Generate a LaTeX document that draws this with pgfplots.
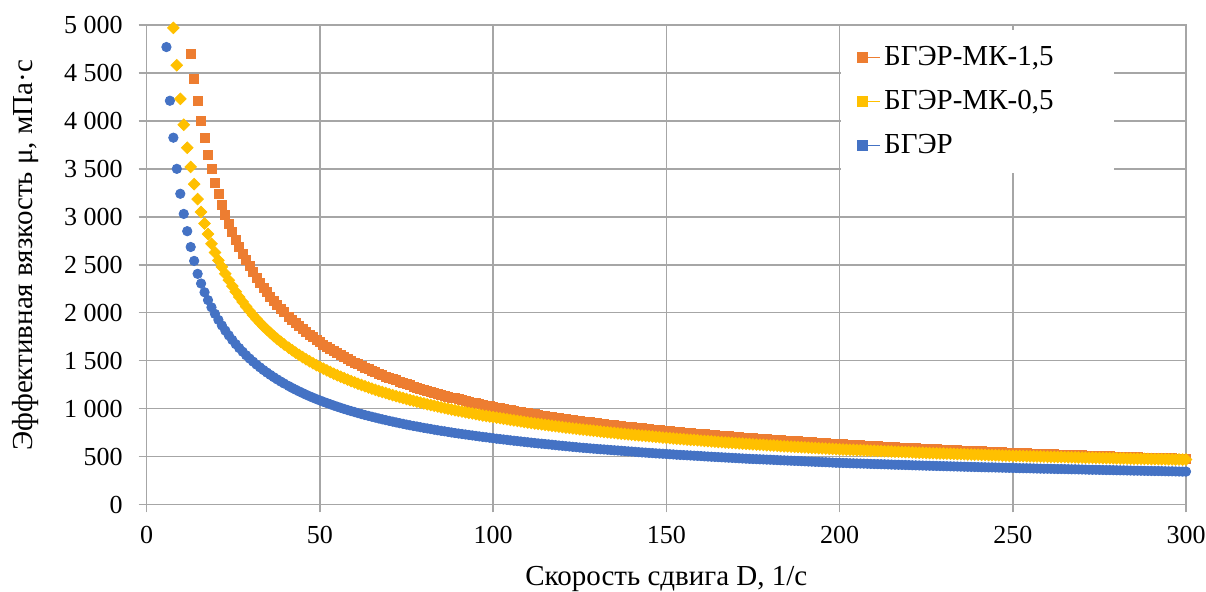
\documentclass[border=0pt]{standalone}
\usepackage{fontspec}
\setmainfont{Liberation Serif}
\usepackage{pgfplots}
\usepackage{pgfplotstable}
\pgfplotsset{compat=1.18}

\definecolor{cOrange}{HTML}{ED7D31}
\definecolor{cGold}{HTML}{FFC000}
\definecolor{cBlue}{HTML}{4472C4}
\definecolor{cGrid}{HTML}{A6A6A6}

% БГЭР-МК-1,5
\pgfplotstableread[row sep=\\]{
x y\\
12.7 4700\\ 13.7 4440\\ 14.7 4207\\ 15.7 4005\\ 16.7 3822\\ 17.7 3650\\ 18.7 3495\\ 19.7 3358\\
20.7 3238\\ 21.7 3126\\ 22.7 3020\\ 23.7 2925\\ 24.7 2840\\ 25.7 2762\\ 26.7 2685\\ 27.7 2614\\
28.7 2546\\ 29.7 2483\\ 30.7 2423\\ 31.7 2367\\ 32.7 2313\\ 33.7 2262\\ 34.7 2214\\ 35.7 2168\\
36.7 2125\\ 37.7 2083\\ 38.7 2043\\ 39.7 2005\\
41 1959\\ 42 1924\\ 43 1891\\ 44 1859\\ 45 1829\\ 46 1799\\ 47 1771\\ 48 1744\\ 49 1718\\ 50 1692\\
51 1668\\ 52 1644\\ 53 1621\\ 54 1599\\ 55 1578\\ 56 1557\\ 57 1537\\ 58 1517\\ 59 1498\\ 60 1480\\
61 1462\\ 62 1445\\ 63 1428\\ 64 1411\\ 65 1395\\ 66 1379\\ 67 1364\\ 68 1350\\ 69 1335\\ 70 1321\\
71 1307\\ 72 1294\\ 73 1281\\ 74 1268\\ 75 1255\\ 76 1243\\ 77 1231\\ 78 1220\\ 79 1208\\ 80 1197\\
81 1186\\ 82 1176\\ 83 1165\\ 84 1155\\ 85 1145\\ 86 1135\\ 87 1125\\ 88 1116\\ 89 1107\\ 90 1098\\
91 1089\\ 92 1080\\ 93 1071\\ 94 1063\\ 95 1055\\ 96 1047\\ 97 1039\\ 98 1031\\ 99 1023\\ 100 1016\\
101 1009\\ 102 1002\\ 103 995\\ 104 989\\ 105 982\\ 106 976\\ 107 969\\ 108 963\\ 109 957\\ 110 951\\
111 945\\ 112 940\\ 113 934\\ 114 929\\ 115 923\\ 116 918\\ 117 912\\ 118 907\\ 119 901\\ 120 896\\
121 891\\ 122 886\\ 123 881\\ 124 876\\ 125 871\\ 126 866\\ 127 861\\ 128 857\\ 129 852\\ 130 848\\
131 843\\ 132 839\\ 133 834\\ 134 830\\ 135 826\\ 136 822\\ 137 818\\ 138 814\\ 139 809\\ 140 805\\
141 801\\ 142 798\\ 143 794\\ 144 790\\ 145 786\\ 146 782\\ 147 778\\ 148 775\\ 149 771\\ 150 768\\
151 764\\ 152 761\\ 153 757\\ 154 754\\ 155 751\\ 156 748\\ 157 744\\ 158 741\\ 159 738\\ 160 735\\
161 732\\ 162 729\\ 163 725\\ 164 722\\ 165 719\\ 166 716\\ 167 713\\ 168 711\\ 169 708\\ 170 705\\
171 702\\ 172 699\\ 173 696\\ 174 694\\ 175 691\\ 176 689\\ 177 686\\ 178 684\\ 179 681\\ 180 678\\
181 675\\ 182 673\\ 183 670\\ 184 668\\ 185 665\\ 186 663\\ 187 660\\ 188 658\\ 189 655\\ 190 653\\
191 650\\ 192 648\\ 193 646\\ 194 644\\ 195 641\\ 196 639\\ 197 637\\ 198 635\\ 199 632\\ 200 630\\
201 628\\ 202 626\\ 203 624\\ 204 622\\ 205 619\\ 206 617\\ 207 615\\ 208 613\\ 209 611\\ 210 609\\
211 607\\ 212 605\\ 213 603\\ 214 601\\ 215 599\\ 216 597\\ 217 595\\ 218 593\\ 219 591\\ 220 590\\
221 588\\ 222 586\\ 223 584\\ 224 583\\ 225 581\\ 226 579\\ 227 577\\ 228 576\\ 229 574\\ 230 573\\
231 571\\ 232 569\\ 233 567\\ 234 566\\ 235 564\\ 236 563\\ 237 561\\ 238 560\\ 239 558\\ 240 556\\
241 554\\ 242 553\\ 243 551\\ 244 550\\ 245 548\\ 246 547\\ 247 545\\ 248 543\\ 249 541\\ 250 540\\
251 538\\ 252 537\\ 253 535\\ 254 534\\ 255 532\\ 256 531\\ 257 530\\ 258 529\\ 259 527\\ 260 526\\
261 524\\ 262 523\\ 263 521\\ 264 520\\ 265 519\\ 266 518\\ 267 516\\ 268 515\\ 269 513\\ 270 512\\
271 511\\ 272 510\\ 273 508\\ 274 507\\ 275 506\\ 276 505\\ 277 503\\ 278 502\\ 279 501\\ 280 500\\
281 499\\ 282 498\\ 283 496\\ 284 495\\ 285 494\\ 286 493\\ 287 491\\ 288 490\\ 289 489\\ 290 488\\
291 487\\ 292 486\\ 293 484\\ 294 483\\ 295 482\\ 296 481\\ 297 479\\ 298 478\\ 299 477\\ 300 476\\
}\mkhigh

% БГЭР-МК-0,5
\pgfplotstableread[row sep=\\]{
x y\\
7.7 4970\\ 8.7 4580\\ 9.7 4230\\ 10.7 3960\\ 11.7 3720\\ 12.7 3520\\ 13.7 3340\\ 14.7 3185\\
15.7 3050\\ 16.7 2930\\ 17.7 2820\\ 18.7 2718\\ 19.7 2628\\ 20.7 2545\\ 21.7 2478\\ 22.7 2406\\
23.7 2339\\ 24.7 2277\\ 25.7 2218\\ 26.7 2163\\ 27.7 2112\\ 28.7 2063\\ 29.7 2018\\ 30.7 1974\\
31.7 1933\\ 32.7 1895\\ 33.7 1857\\ 34.7 1822\\ 35.7 1789\\ 36.7 1757\\ 37.7 1726\\ 38.7 1697\\
39.7 1668\\
41 1634\\ 42 1608\\ 43 1584\\ 44 1560\\ 45 1537\\ 46 1515\\ 47 1494\\ 48 1473\\ 49 1453\\ 50 1434\\
51 1416\\ 52 1398\\ 53 1381\\ 54 1364\\ 55 1348\\ 56 1332\\ 57 1317\\ 58 1302\\ 59 1287\\ 60 1273\\
61 1259\\ 62 1246\\ 63 1233\\ 64 1220\\ 65 1208\\ 66 1196\\ 67 1184\\ 68 1173\\ 69 1162\\ 70 1151\\
71 1140\\ 72 1130\\ 73 1120\\ 74 1110\\ 75 1100\\ 76 1090\\ 77 1081\\ 78 1072\\ 79 1063\\ 80 1054\\
81 1045\\ 82 1037\\ 83 1029\\ 84 1021\\ 85 1013\\ 86 1006\\ 87 998\\ 88 991\\ 89 983\\ 90 976\\
91 969\\ 92 962\\ 93 955\\ 94 949\\ 95 942\\ 96 936\\ 97 929\\ 98 923\\ 99 917\\ 100 911\\
101 905\\ 102 900\\ 103 894\\ 104 888\\ 105 882\\ 106 877\\ 107 871\\ 108 866\\ 109 860\\ 110 855\\
111 850\\ 112 845\\ 113 840\\ 114 836\\ 115 831\\ 116 826\\ 117 821\\ 118 817\\ 119 812\\ 120 807\\
121 802\\ 122 798\\ 123 793\\ 124 789\\ 125 785\\ 126 781\\ 127 777\\ 128 773\\ 129 769\\ 130 765\\
131 761\\ 132 757\\ 133 753\\ 134 750\\ 135 746\\ 136 742\\ 137 738\\ 138 735\\ 139 731\\ 140 728\\
141 724\\ 142 721\\ 143 718\\ 144 715\\ 145 711\\ 146 708\\ 147 705\\ 148 702\\ 149 698\\ 150 695\\
151 692\\ 152 689\\ 153 686\\ 154 683\\ 155 680\\ 156 677\\ 157 674\\ 158 672\\ 159 669\\ 160 666\\
161 663\\ 162 661\\ 163 658\\ 164 655\\ 165 652\\ 166 650\\ 167 647\\ 168 645\\ 169 642\\ 170 640\\
171 637\\ 172 635\\ 173 632\\ 174 630\\ 175 627\\ 176 625\\ 177 623\\ 178 621\\ 179 618\\ 180 616\\
181 614\\ 182 612\\ 183 609\\ 184 607\\ 185 605\\ 186 603\\ 187 601\\ 188 599\\ 189 597\\ 190 595\\
191 593\\ 192 591\\ 193 589\\ 194 587\\ 195 585\\ 196 583\\ 197 581\\ 198 579\\ 199 577\\ 200 575\\
201 573\\ 202 572\\ 203 570\\ 204 569\\ 205 567\\ 206 566\\ 207 564\\ 208 563\\ 209 561\\ 210 560\\
211 558\\ 212 557\\ 213 555\\ 214 554\\ 215 552\\ 216 551\\ 217 549\\ 218 548\\ 219 546\\ 220 545\\
221 543\\ 222 541\\ 223 540\\ 224 539\\ 225 537\\ 226 536\\ 227 534\\ 228 533\\ 229 532\\ 230 531\\
231 530\\ 232 529\\ 233 527\\ 234 526\\ 235 525\\ 236 524\\ 237 522\\ 238 521\\ 239 520\\ 240 519\\
241 518\\ 242 517\\ 243 515\\ 244 514\\ 245 513\\ 246 512\\ 247 510\\ 248 509\\ 249 508\\ 250 507\\
251 506\\ 252 505\\ 253 504\\ 254 503\\ 255 502\\ 256 502\\ 257 501\\ 258 500\\ 259 499\\ 260 498\\
261 497\\ 262 496\\ 263 495\\ 264 495\\ 265 494\\ 266 493\\ 267 492\\ 268 491\\ 269 490\\ 270 489\\
271 488\\ 272 488\\ 273 487\\ 274 486\\ 275 485\\ 276 484\\ 277 483\\ 278 483\\ 279 482\\ 280 481\\
281 480\\ 282 480\\ 283 479\\ 284 478\\ 285 477\\ 286 477\\ 287 476\\ 288 476\\ 289 475\\ 290 474\\
291 473\\ 292 473\\ 293 472\\ 294 472\\ 295 471\\ 296 470\\ 297 469\\ 298 469\\ 299 468\\ 300 468\\
}\mklow

% БГЭР
\pgfplotstableread[row sep=\\]{
x y\\
5.7 4770\\ 6.7 4210\\ 7.7 3825\\ 8.7 3500\\ 9.7 3240\\ 10.7 3030\\ 11.7 2850\\ 12.7 2685\\
13.7 2540\\ 14.7 2405\\ 15.7 2304\\ 16.7 2213\\ 17.7 2131\\ 18.7 2056\\ 19.7 1988\\ 20.7 1925\\
21.7 1867\\ 22.7 1813\\ 23.7 1763\\ 24.7 1716\\ 25.7 1672\\ 26.7 1631\\ 27.7 1593\\ 28.7 1556\\
29.7 1522\\ 30.7 1490\\ 31.7 1459\\ 32.7 1430\\ 33.7 1402\\ 34.7 1376\\ 35.7 1351\\ 36.7 1327\\
37.7 1304\\ 38.7 1282\\ 39.7 1261\\
41 1235\\ 42 1215\\ 43 1197\\ 44 1179\\ 45 1162\\ 46 1145\\ 47 1129\\ 48 1114\\ 49 1099\\ 50 1085\\
51 1071\\ 52 1058\\ 53 1045\\ 54 1032\\ 55 1020\\ 56 1008\\ 57 996\\ 58 985\\ 59 974\\ 60 964\\
61 953\\ 62 943\\ 63 933\\ 64 924\\ 65 915\\ 66 906\\ 67 897\\ 68 888\\ 69 880\\ 70 872\\
71 864\\ 72 856\\ 73 848\\ 74 841\\ 75 833\\ 76 826\\ 77 819\\ 78 813\\ 79 806\\ 80 799\\
81 793\\ 82 787\\ 83 780\\ 84 774\\ 85 768\\ 86 763\\ 87 757\\ 88 751\\ 89 745\\ 90 740\\
91 735\\ 92 730\\ 93 725\\ 94 720\\ 95 715\\ 96 710\\ 97 705\\ 98 701\\ 99 696\\ 100 691\\
101 686\\ 102 682\\ 103 678\\ 104 674\\ 105 669\\ 106 665\\ 107 661\\ 108 657\\ 109 653\\ 110 649\\
111 645\\ 112 641\\ 113 637\\ 114 634\\ 115 630\\ 116 627\\ 117 623\\ 118 619\\ 119 615\\ 120 612\\
121 608\\ 122 605\\ 123 601\\ 124 598\\ 125 594\\ 126 591\\ 127 588\\ 128 585\\ 129 582\\ 130 579\\
131 576\\ 132 574\\ 133 571\\ 134 568\\ 135 565\\ 136 563\\ 137 560\\ 138 557\\ 139 554\\ 140 552\\
141 549\\ 142 546\\ 143 543\\ 144 541\\ 145 538\\ 146 536\\ 147 533\\ 148 531\\ 149 529\\ 150 527\\
151 524\\ 152 522\\ 153 519\\ 154 517\\ 155 515\\ 156 513\\ 157 511\\ 158 509\\ 159 507\\ 160 505\\
161 502\\ 162 500\\ 163 498\\ 164 496\\ 165 494\\ 166 492\\ 167 490\\ 168 488\\ 169 486\\ 170 484\\
171 482\\ 172 480\\ 173 478\\ 174 476\\ 175 474\\ 176 473\\ 177 471\\ 178 470\\ 179 468\\ 180 467\\
181 465\\ 182 463\\ 183 461\\ 184 460\\ 185 458\\ 186 457\\ 187 455\\ 188 454\\ 189 452\\ 190 450\\
191 448\\ 192 447\\ 193 445\\ 194 444\\ 195 442\\ 196 441\\ 197 439\\ 198 437\\ 199 435\\ 200 434\\
201 433\\ 202 432\\ 203 430\\ 204 429\\ 205 428\\ 206 427\\ 207 426\\ 208 425\\ 209 423\\ 210 422\\
211 421\\ 212 420\\ 213 419\\ 214 418\\ 215 416\\ 216 415\\ 217 414\\ 218 413\\ 219 412\\ 220 411\\
221 409\\ 222 408\\ 223 407\\ 224 406\\ 225 405\\ 226 404\\ 227 403\\ 228 402\\ 229 401\\ 230 400\\
231 399\\ 232 398\\ 233 397\\ 234 396\\ 235 395\\ 236 394\\ 237 393\\ 238 392\\ 239 391\\ 240 390\\
241 389\\ 242 388\\ 243 387\\ 244 387\\ 245 386\\ 246 385\\ 247 384\\ 248 383\\ 249 382\\ 250 381\\
251 380\\ 252 379\\ 253 378\\ 254 378\\ 255 377\\ 256 376\\ 257 375\\ 258 374\\ 259 373\\ 260 373\\
261 372\\ 262 371\\ 263 370\\ 264 370\\ 265 369\\ 266 368\\ 267 367\\ 268 367\\ 269 366\\ 270 365\\
271 364\\ 272 363\\ 273 362\\ 274 362\\ 275 361\\ 276 360\\ 277 359\\ 278 359\\ 279 358\\ 280 357\\
281 356\\ 282 356\\ 283 355\\ 284 354\\ 285 353\\ 286 353\\ 287 352\\ 288 351\\ 289 350\\ 290 350\\
291 349\\ 292 349\\ 293 348\\ 294 347\\ 295 346\\ 296 346\\ 297 345\\ 298 344\\ 299 343\\ 300 343\\
}\base

\begin{document}
\begin{tikzpicture}
% page = 1206 x 592 px at 0.5pt per px; plot area from (146.7,25) to (1186,504.5) px
\path[use as bounding box] (-73.35pt,-43.75pt) rectangle (529.65pt,252.25pt);
\begin{axis}[
  at={(0,0)}, anchor=south west,
  scale only axis,
  width=519.65pt, height=239.75pt,
  xmin=0, xmax=300, ymin=0, ymax=5000,
  xtick={0,50,...,300},
  ytick={0,500,...,5000},
  clip=false,
  grid=major,
  major grid style={cGrid, line width=0.8pt},
  axis line style={cGrid, line width=0.8pt},
  tick pos=left,
  tick align=outside,
  major tick length=4pt,
  tick style={cGrid, line width=0.8pt},
  /pgf/number format/assume math mode=true,
  /pgf/number format/1000 sep={\ },
  tick label style={font=\fontsize{13}{15}\selectfont, black},
  x tick label style={yshift=-3.5pt},
  y tick label style={xshift=-4.5pt},
  xlabel={Скорость сдвига D, 1/с},
  ylabel={Эффективная вязкость μ, мПа·с},
  every axis x label/.style={at={([yshift=-40.75pt]rel axis cs:0.5,0)}, anchor=base,
    font=\fontsize{14.5}{17}\selectfont},
  every axis y label/.style={at={([xshift=-56.85pt]rel axis cs:0,0.52)}, anchor=base,
    rotate=90, font=\fontsize{14.5}{17}\selectfont},
  legend style={at={(rel axis cs:0.668,0.99)}, anchor=north west,
    draw=none, fill=white, inner xsep=8pt, inner ysep=6pt,
    font=\fontsize{14.5}{17}\selectfont, row sep=7pt,
    cells={anchor=west}},
  legend cell align=left,
  legend image code/.code={\fill (0pt,-2.5pt) rectangle (5pt,2.5pt); \path (0pt,0pt) -- (11pt,0pt);},
]
\addplot[only marks, mark=square*, mark size=2.25pt, color=cOrange] table {\mkhigh};
\addlegendentry{\makebox[105pt][l]{БГЭР-МК-1,5}}
\addplot[only marks, mark=square*, mark size=2.05pt, mark options={rotate=45}, color=cGold] table {\mklow};
\addlegendentry{БГЭР-МК-0,5}
\addplot[only marks, mark=*, mark size=2.35pt, color=cBlue] table {\base};
\addlegendentry{БГЭР}
\end{axis}
\end{tikzpicture}
\end{document}
